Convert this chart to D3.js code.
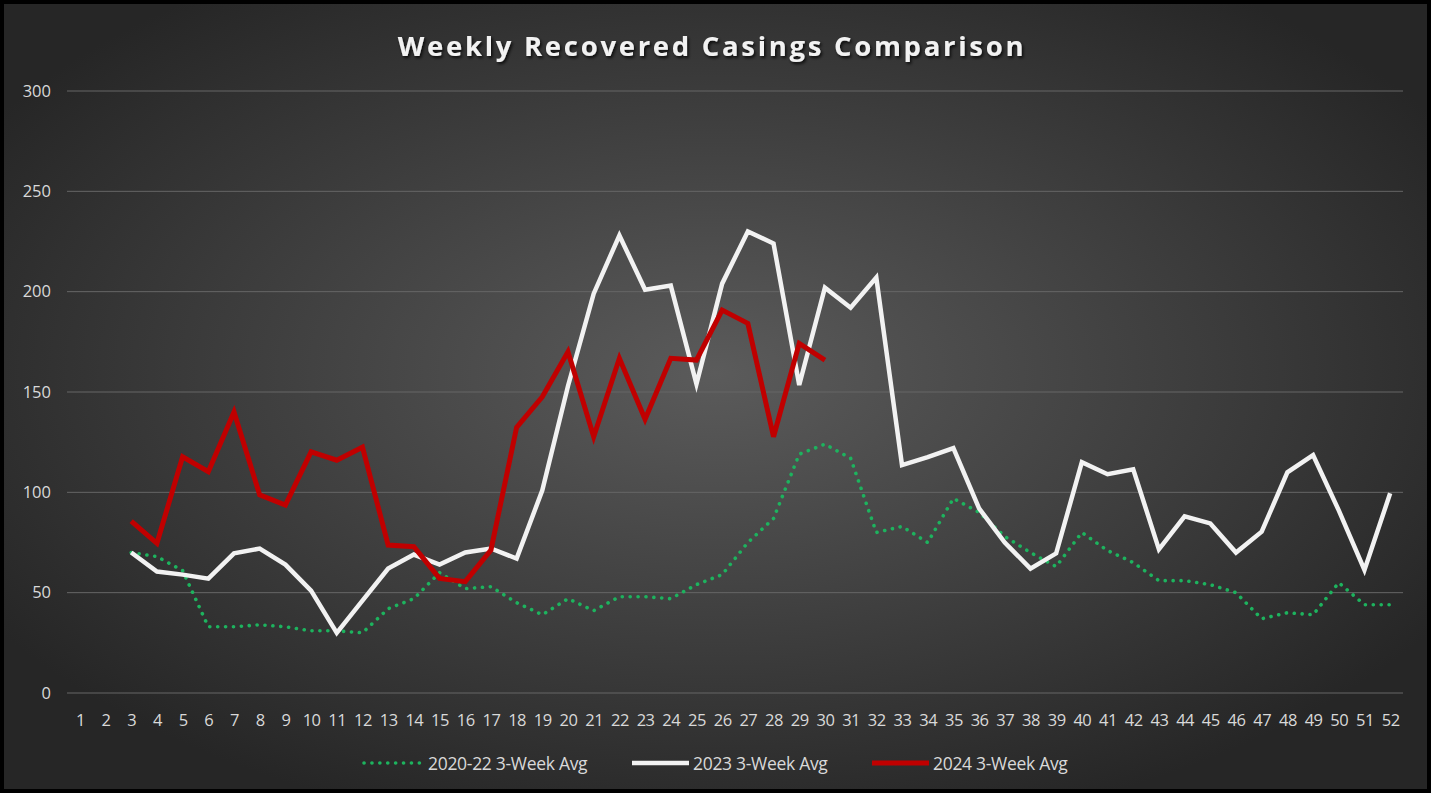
<!DOCTYPE html>
<html>
<head>
<meta charset="utf-8">
<script src="https://cdn.jsdelivr.net/npm/d3@7"></script>
<style>
  html, body { margin: 0; padding: 0; background: #fff; }
  svg { display: block; }
</style>
</head>
<body>
<svg id="chart"></svg>
<script>
// weeks 1..52, null = no value that week
const weeks = d3.range(1, 53);
const yTicks = [0, 50, 100, 150, 200, 250, 300];

const avg2020_22 = [null, null,
  70, 68, 61, 33, 33, 34, 33, 31, 31, 30,
  42, 47, 60, 52, 53, 45, 39, 47, 41, 48,
  48, 47, 54, 59, 75, 87, 119, 124, 117, 80,
  83, 75, 97, 90, 78, 70, 63, 80, 71, 65,
  56, 56, 54, 50, 37, 40, 39, 55, 44, 44];

const avg2023 = [null, null,
  70, 60.5, 59, 57, 69.6, 72, 64, 51, 30, 46,
  62, 69, 64, 70, 72, 67, 101, 153, 199, 228,
  201, 203, 154, 204, 230, 224, 153.5, 202, 192, 207,
  113.6, 117.5, 122, 92, 75, 62, 69.6, 115, 109, 111.5,
  71.6, 88, 84.5, 70, 80.4, 110, 118.6, 91, 61.3, 99.5];

const avg2024 = [null, null,
  85.7, 74.6, 117.7, 110.3, 140, 98.7, 93.7, 120.2, 116, 122.5,
  73.7, 72.9, 57.1, 55.5, 71.2, 132.4, 147.6, 170, 127.7, 166.8,
  136.4, 166.8, 165.9, 190.8, 184.2, 127.7, 174.2, 165.9];

const seriesNames = ["2020-22 3-Week Avg", "2023 3-Week Avg", "2024 3-Week Avg"];

const W = 1432, H = 794;
const svg = d3.select("#chart").attr("width", W).attr("height", H);
const font = "'Open Sans', 'Noto Sans', sans-serif";

const defs = svg.append("defs");
const bg = defs.append("radialGradient").attr("id", "bg")
  .attr("cx", "50%").attr("cy", "47%").attr("r", "60%");
bg.append("stop").attr("offset", "0%").attr("stop-color", "#5b5b5b");
bg.append("stop").attr("offset", "100%").attr("stop-color", "#262626");

const shadow = defs.append("filter").attr("id", "shadow")
  .attr("x", "-10%").attr("y", "-30%").attr("width", "120%").attr("height", "160%");
shadow.append("feDropShadow").attr("dx", 1.5).attr("dy", 2)
  .attr("stdDeviation", 1.5).attr("flood-color", "#000").attr("flood-opacity", 0.8);

svg.append("rect").attr("x", 2).attr("y", 2)
  .attr("width", W - 5).attr("height", H - 5)
  .attr("fill", "url(#bg)").attr("stroke", "#000").attr("stroke-width", 4);

const x = d3.scalePoint().domain(weeks).range([67, 1403]).padding(0.5);
const y = d3.scaleLinear().domain([0, 300]).range([693, 91]);

// gridlines
svg.append("g").selectAll("line").data(yTicks).join("line")
  .attr("x1", 67).attr("x2", 1403)
  .attr("y1", d => y(d)).attr("y2", d => y(d))
  .attr("stroke", "#666").attr("stroke-width", 1);

// axes
const yAxis = svg.append("g").attr("transform", "translate(51,0)")
  .call(d3.axisLeft(y).tickValues(yTicks).tickSize(0).tickPadding(0));
const xAxis = svg.append("g").attr("transform", "translate(0,693)")
  .call(d3.axisBottom(x).tickSize(0).tickPadding(21));
[xAxis, yAxis].forEach(g => {
  g.select(".domain").remove();
  g.selectAll("text").attr("fill", "#d9d9d9")
    .style("font-family", font).style("font-size", "16.5px");
});
xAxis.selectAll("text").style("letter-spacing", "-0.5px");

// lines
const line = d3.line()
  .defined(d => d != null)
  .x((d, i) => x(weeks[i]))
  .y(d => y(d));

svg.append("path").datum(avg2020_22)
  .attr("d", line).attr("fill", "none")
  .attr("stroke", "#1db35e").attr("stroke-width", 3.6)
  .attr("stroke-linecap", "round").attr("stroke-dasharray", "0.1 7.8");

svg.append("path").datum(avg2023)
  .attr("d", line).attr("fill", "none")
  .attr("stroke", "#f2f2f2").attr("stroke-width", 4.5);

svg.append("path").datum(avg2024.concat(d3.range(22).map(() => null)))
  .attr("d", line).attr("fill", "none")
  .attr("stroke", "#c00000").attr("stroke-width", 5);

// title
svg.append("text")
  .attr("x", 712).attr("y", 56)
  .attr("text-anchor", "middle")
  .attr("fill", "#f2f2f2")
  .attr("filter", "url(#shadow)")
  .style("font-family", font).style("font-size", "27.5px")
  .style("font-weight", "bold").style("letter-spacing", "2.7px")
  .text("Weekly Recovered Casings Comparison");

// legend
const legend = [
  { name: seriesNames[0], x: 364, tx: 428, color: "#1db35e", w: 3.6, dash: "0.1 7.8", cap: "round" },
  { name: seriesNames[1], x: 632, tx: 693, color: "#f2f2f2", w: 4.5, dash: null, cap: "butt" },
  { name: seriesNames[2], x: 872, tx: 933, color: "#c00000", w: 5, dash: null, cap: "butt" }
];
const lg = svg.append("g").selectAll("g").data(legend).join("g");
lg.append("line")
  .attr("x1", d => d.x).attr("x2", d => d.x + 57)
  .attr("y1", 763).attr("y2", 763)
  .attr("stroke", d => d.color).attr("stroke-width", d => d.w)
  .attr("stroke-linecap", d => d.cap)
  .attr("stroke-dasharray", d => d.dash);
lg.append("text")
  .attr("x", d => d.tx).attr("y", 769.5)
  .attr("fill", "#d9d9d9")
  .style("font-family", font).style("font-size", "17.5px")
  .style("letter-spacing", "-0.3px")
  .text(d => d.name);
</script>
</body>
</html>
